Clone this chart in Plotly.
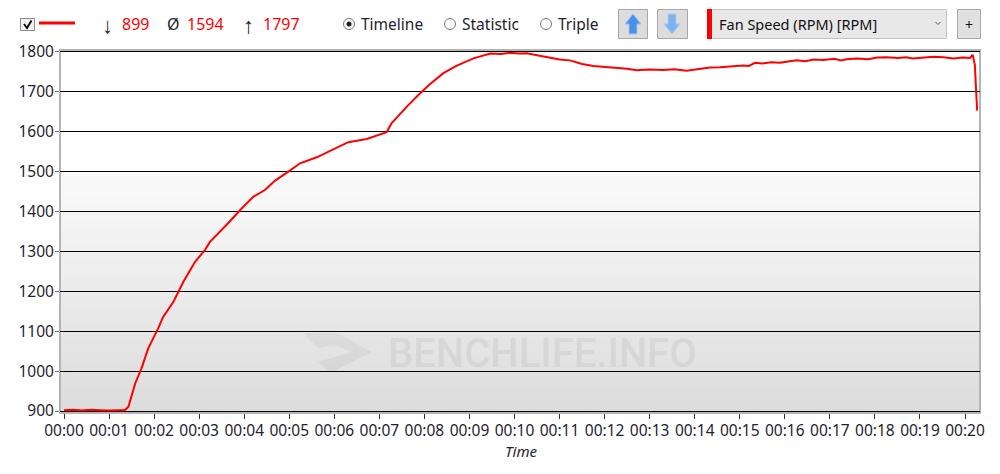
import plotly.graph_objects as go

# fan speed log
minutes = [
    0.0, 0.2, 0.4, 0.6, 0.8, 1.0, 1.2, 1.35, 1.43, 1.58, 1.72, 1.87, 2.09, 2.20, 2.43, 2.65, 2.91, 3.13,
    3.24, 3.39, 3.68, 3.91, 4.20, 4.46, 4.68, 4.98, 5.24, 5.61, 5.98, 6.31, 6.72, 7.16,
    7.27, 7.61, 7.90, 8.12, 8.42, 8.72, 9.09, 9.3, 9.46, 9.7, 9.90, 10.1, 10.27, 10.5, 10.71,
    11.0, 11.23, 11.5, 11.75, 12.0, 12.27, 12.5, 12.71, 13.0, 13.3, 13.55, 13.82, 14.1, 14.34,
    14.56, 14.8, 15.08, 15.2, 15.34, 15.5, 15.7, 15.89, 16.05, 16.26, 16.45, 16.65, 16.85,
    17.1, 17.25, 17.37, 17.6, 17.85, 18.05, 18.26, 18.5, 18.7, 18.84, 19.05, 19.3, 19.52,
    19.75, 19.95, 20.11, 20.17, 20.22, 20.24, 20.27,
]
rpm = [
    902, 903, 901, 903, 902, 901, 902, 902, 911, 969, 1007, 1057, 1107, 1136, 1174, 1224, 1274, 1304,
    1324, 1341, 1375, 1404, 1437, 1454, 1477, 1500, 1521, 1536, 1556, 1574, 1582, 1599,
    1621, 1663, 1696, 1719, 1747, 1766, 1784, 1790, 1796, 1795, 1798, 1796, 1797, 1792, 1788,
    1781, 1779, 1770, 1765, 1763, 1761, 1758, 1754, 1756, 1755, 1757, 1753, 1757, 1761,
    1762, 1764, 1766, 1765, 1773, 1771, 1774, 1773, 1775, 1779, 1777, 1781, 1780,
    1783, 1779, 1782, 1784, 1782, 1786, 1787, 1785, 1787, 1784, 1786, 1788, 1787,
    1784, 1786, 1785, 1793, 1767, 1717, 1653,
]
y_ticks = [900, 1000, 1100, 1200, 1300, 1400, 1500, 1600, 1700, 1800]
x_ticks = list(range(21))
x_labels = ["00:%02d" % m for m in x_ticks]

W, H = 1000, 474
FONT = "Noto Sans"
INK = "#1f2430"
RED = "#ff0000"


def px(x):
    return x / W


def py(y):
    return 1 - y / H


def box(x0, y0, x1, y1, fill=None, line=None, width=1, layer="above", kind="rect"):
    return dict(
        type=kind, xref="paper", yref="paper", layer=layer,
        x0=px(x0), x1=px(x1), y0=py(y0), y1=py(y1),
        fillcolor=fill if fill else "rgba(0,0,0,0)",
        line=dict(color=line if line else "rgba(0,0,0,0)", width=width if line else 0),
    )


def poly(points, fill=None, line=None, width=1, layer="above"):
    path = "M" + " L".join("%.4f,%.4f" % (px(x), py(y)) for x, y in points)
    if fill:
        path += " Z"
    return dict(
        type="path", xref="paper", yref="paper", layer=layer, path=path,
        fillcolor=fill if fill else "rgba(0,0,0,0)",
        line=dict(color=line if line else "rgba(0,0,0,0)", width=width if line else 0),
    )


def label(x, y, text, color=INK, size=15.5, anchor="left", family=FONT, italic=False, weight=400):
    return dict(
        xref="paper", yref="paper", x=px(x), y=py(y), text=text, showarrow=False,
        xanchor=anchor, yanchor="middle",
        font=dict(family=family, size=size, color=color, weight=weight,
                  style="italic" if italic else "normal"),
    )


shapes = []
notes = []

# plot background: white on top, grey fade from the 1500 line down
steps = 40
for i in range(steps):
    y0 = 172 + i * (413 - 172) / steps
    y1 = 172 + (i + 1) * (413 - 172) / steps
    g = round(250 - (250 - 220) * i / (steps - 1))
    shapes.append(box(60, y0, 980, y1 + 0.5, fill="rgb(%d,%d,%d)" % (g, g, g), layer="below"))

# watermark
shapes.append(poly([(303, 333), (337, 333), (372, 352), (330, 373), (318, 362), (352, 352), (334, 345), (318, 348)],
                   fill="rgba(170,170,170,0.16)", layer="below"))
notes.append(label(386, 353, "BENCHLIFE.INFO", color="rgba(150,150,150,0.18)", size=40,
                   family="Roboto", weight=500))

# frame
shapes.append(box(60, 50, 980, 413, line="#b4b4b4", width=2, layer="below"))

# checkbox and legend line
shapes.append(box(20.5, 18.5, 34.5, 30.5, fill="#f4f4f4", line="#8a8a8a"))
shapes.append(poly([(24, 24), (27, 28), (31.5, 20.5)], line="#111111", width=2))
shapes.append(poly([(39, 23), (75, 23)], line=RED, width=3))

# min / avg / max read-outs
notes.append(label(107, 24, "↓", size=22, anchor="center"))
notes.append(label(120, 24, "899", color=RED, size=16))
notes.append(label(173, 24, "Ø", size=16, anchor="center"))
notes.append(label(185, 24, "1594", color=RED, size=16))
notes.append(label(248, 24, "↑", size=22, anchor="center"))
notes.append(label(261, 24, "1797", color=RED, size=16))

# view radios
for cx, text, picked in [(349, "Timeline", True), (450, "Statistic", False), (546, "Triple", False)]:
    shapes.append(box(cx - 5.5, 18.5, cx + 5.5, 29.5, fill="#fafafa", line="#7a7a7a", kind="circle"))
    if picked:
        shapes.append(box(cx - 2.5, 21.5, cx + 2.5, 26.5, fill="#222222", kind="circle"))
    notes.append(label(cx + 10, 24, text))

# up and down buttons
shapes.append(box(618.5, 9.5, 647.5, 38.5, fill="#dcdcdc", line="#a8a8a8"))
shapes.append(box(657.5, 9.5, 687.5, 38.5, fill="#dcdcdc", line="#a8a8a8"))
shapes.append(poly([(633, 14), (641, 24), (637, 24), (637, 34), (629, 34), (629, 24), (625, 24)],
                   fill="#4a90e6", line="#9cc4f0"))
shapes.append(poly([(672, 34), (664, 24), (668, 24), (668, 14), (676, 14), (676, 24), (680, 24)],
                   fill="#7db2f0", line="#a8ccf4"))

# sensor selector
shapes.append(box(711.5, 9.5, 946.5, 38.5, fill="#e8e8e8", line="#c4c4c4"))
shapes.append(box(707, 9, 712, 39, fill=RED))
shapes.append(poly([(935.5, 22), (938, 24.5), (940.5, 22)], line="#555555", width=1))
notes.append(label(717, 24, "Fan Speed (RPM) [RPM]", size=14.5, color="#111111"))
shapes.append(box(957.5, 9.5, 980.5, 38.5, fill="#e0e0e0", line="#a8a8a8"))
notes.append(label(969, 24, "+", size=14, anchor="center", color="#111111"))

notes.append(label(521, 451, "Time", size=15, anchor="center", italic=True))

fig = go.Figure()
fig.add_trace(go.Scatter(x=minutes, y=rpm, mode="lines", line=dict(color=RED, width=2), hoverinfo="skip"))

fig.update_layout(
    width=W, height=H,
    margin=dict(l=0, r=0, t=0, b=0),
    paper_bgcolor="white", plot_bgcolor="white",
    showlegend=False,
    shapes=shapes, annotations=notes,
    font=dict(family=FONT, size=15.5, color=INK),
    xaxis=dict(
        domain=[px(60), px(980)], range=[-0.089, 20.333], automargin=False,
        tickmode="array", tickvals=x_ticks, ticktext=x_labels,
        ticks="outside", ticklen=5, tickcolor="#333333", showgrid=False, zeroline=False,
        ticklabelstandoff=-2,
    ),
    yaxis=dict(
        domain=[py(413), py(50)], range=[895, 1805], automargin=False,
        tickmode="array", tickvals=y_ticks,
        ticks="outside", ticklen=4, tickcolor="#777777",
        showgrid=True, gridcolor="#000000", gridwidth=1, zeroline=False,
        ticklabelstandoff=-2,
    ),
)

# the page's default body margin would push the 1000px figure off by 8px
fig.write_html("out.html", config=dict(displayModeBar=False), post_script="document.body.style.margin='0';")
